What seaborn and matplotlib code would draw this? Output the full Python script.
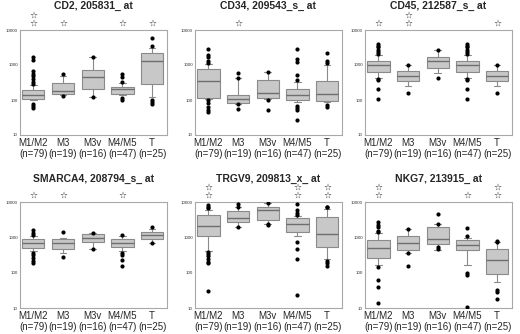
import matplotlib
matplotlib.use("Agg")
import matplotlib.pyplot as plt
import seaborn as sns

GROUPS = ["M1/M2", "M3", "M3v", "M4/M5", "T"]
COUNTS = [79, 19, 16, 47, 25]

TITLES = ["CD2, 205831_ at", "CD34, 209543_s_ at", "CD45, 212587_s_ at",
          "SMARCA4, 208794_s_ at", "TRGV9, 209813_x_ at", "NKG7, 213915_ at"]

# box stats per group: (whisker low, q1, median, q3, whisker high)
CD2_BOX = [(100, 107, 139, 193, 270), (140, 145, 185, 300, 500), (125, 202, 445, 720, 1650),
           (135, 145, 200, 240, 300), (120, 280, 1300, 2150, 3000)]
CD34_BOX = [(108, 117, 357, 780, 1100), (78, 80, 105, 137, 434), (105, 115, 160, 365, 630),
            (90, 100, 137, 203, 330), (85, 95, 145, 357, 970)]
CD45_BOX = [(430, 630, 970, 1260, 1870), (245, 340, 475, 660, 970), (590, 820, 1340, 1680, 2600),
            (430, 630, 970, 1260, 1870), (245, 340, 475, 660, 970)]
SMARCA4_BOX = [(405, 505, 670, 870, 1100), (365, 475, 700, 910, 970), (455, 750, 980, 1210, 1350),
               (405, 540, 700, 870, 1100), (700, 910, 1130, 1400, 1700)]
TRGV9_BOX = [(415, 1070, 2150, 4350, 6000), (2000, 2800, 3570, 5530, 7200), (2400, 3130, 6040, 7200, 9400),
             (1120, 1390, 2400, 3570, 3900), (250, 520, 1240, 3740, 6500)]
NKG7_BOX = [(160, 266, 495, 850, 1300), (370, 425, 690, 1120, 1720), (440, 630, 870, 1900, 2350),
            (170, 425, 590, 850, 950), (55, 89, 235, 475, 720)]

# outlier points per group
CD2_OUT = [[1700, 1400, 690, 570, 470, 400, 330, 290, 77, 67, 60], [560, 128], [1650, 125],
           [570, 445, 335, 112, 100], [5800, 3600, 100, 86, 76]]
CD34_OUT = [[2800, 1950, 1680, 1260, 1130, 100, 80, 64, 52, 46], [590, 434, 75, 57], [630, 100, 53],
            [2800, 1500, 1200, 510, 380, 67, 60, 52, 27], [2200, 1260, 1150, 70, 62]]
CD45_OUT = [[4000, 3600, 3200, 2700, 2300, 2000, 410, 365, 200, 110], [1000, 160], [2600, 434],
            [4000, 3600, 3200, 2700, 2300, 2000, 410, 365, 200, 110], [1000, 160]]
SMARCA4_OUT = [[1570, 1350, 1200, 365, 315, 265, 215, 182], [1400, 275], [1350, 455],
               [1200, 365, 315, 225, 155], [2000, 700]]
TRGV9_OUT = [[8000, 7200, 6600, 390, 335, 290, 240, 205, 190, 31], [9000, 7200, 2000], [9400, 2400, 2200],
             [8600, 5800, 4850, 4300, 750, 465, 250, 24], [7400, 7000, 215, 185, 155]]
NKG7_OUT = [[2640, 2270, 1900, 1540, 1380, 146, 62, 40, 14], [1720, 370, 150], [4700, 2350, 530, 475],
            [1800, 1100, 95, 85, 11], [800, 760, 32, 29, 18]]

# number of significance stars above each group
CD2_STARS = [2, 1, 0, 1, 1]
CD34_STARS = [0, 1, 0, 0, 0]
CD45_STARS = [1, 2, 0, 0, 1]
SMARCA4_STARS = [1, 1, 0, 1, 0]
TRGV9_STARS = [2, 0, 0, 2, 2]
NKG7_STARS = [2, 0, 0, 1, 2]

BOXES = [CD2_BOX, CD34_BOX, CD45_BOX, SMARCA4_BOX, TRGV9_BOX, NKG7_BOX]
OUTLIERS = [CD2_OUT, CD34_OUT, CD45_OUT, SMARCA4_OUT, TRGV9_OUT, NKG7_OUT]
STARS = [CD2_STARS, CD34_STARS, CD45_STARS, SMARCA4_STARS, TRGV9_STARS, NKG7_STARS]

sns.set_style("white")
plt.rcParams["font.family"] = ["Liberation Sans", "DejaVu Sans"]

fig = plt.figure(figsize=(5.2, 3.34), dpi=100)
W, H = 520, 334
lefts = [20, 195, 365]
rows = [(30, 135), (202, 308)]
title_off = [17.2, 16.5]

for k in range(6):
    r, c = divmod(k, 3)
    top, bot = rows[r]
    ax = fig.add_axes([lefts[c] / W, 1 - bot / H, 147 / W, (bot - top) / H])

    stats = [dict(whislo=b[0], q1=b[1], med=b[2], q3=b[3], whishi=b[4]) for b in BOXES[k]]
    ax.bxp(stats, positions=range(5), widths=0.75, capwidths=0.22, showfliers=False,
           patch_artist=True,
           boxprops=dict(facecolor="#c8c8c8", edgecolor="#8a8a8a", linewidth=0.8),
           medianprops=dict(color="#6e6e6e", linewidth=1.0),
           whiskerprops=dict(color="#8a8a8a", linewidth=0.8),
           capprops=dict(color="#8a8a8a", linewidth=0.8))

    xs = [i for i, o in enumerate(OUTLIERS[k]) for _ in o]
    ys = [v for o in OUTLIERS[k] for v in o]
    sns.scatterplot(x=xs, y=ys, ax=ax, color="black", s=9, linewidth=0, legend=False, zorder=5)

    ax.set_yscale("log")
    ax.set_ylim(10, 10000)
    ax.set_xlim(-0.45, 4.5)
    ax.set_yticks([10, 100, 1000, 10000], labels=["10", "100", "1000", "10000"])
    ax.minorticks_off()
    ax.set_xticks(range(5), labels=[f"{g}\n(n={n})" for g, n in zip(GROUPS, COUNTS)])
    ax.tick_params(axis="x", length=0, pad=2, labelsize=7)
    ax.tick_params(axis="y", length=0, pad=1.5, labelsize=3.2, labelcolor="#333333")
    for lab in ax.get_xticklabels():
        lab.set_linespacing(1.1)
    for sp in ax.spines.values():
        sp.set_color("#a8a8a8")
        sp.set_linewidth(0.8)

    ax.annotate(TITLES[k], xy=(0.5, 1), xycoords="axes fraction", xytext=(0, title_off[r]),
                textcoords="offset points", ha="center", va="center",
                fontsize=7.5, fontweight="bold")

    for i, n in enumerate(STARS[k]):
        for j in range(n):
            ax.annotate("\u2606", xy=(i, 1), xycoords=ax.get_xaxis_transform(),
                        xytext=(0, 4.6 + 6.0 * j), textcoords="offset points",
                        ha="center", va="center", fontsize=6.5,
                        family=["DejaVu Sans"], annotation_clip=False)

fig.savefig("out.png", dpi=100)
